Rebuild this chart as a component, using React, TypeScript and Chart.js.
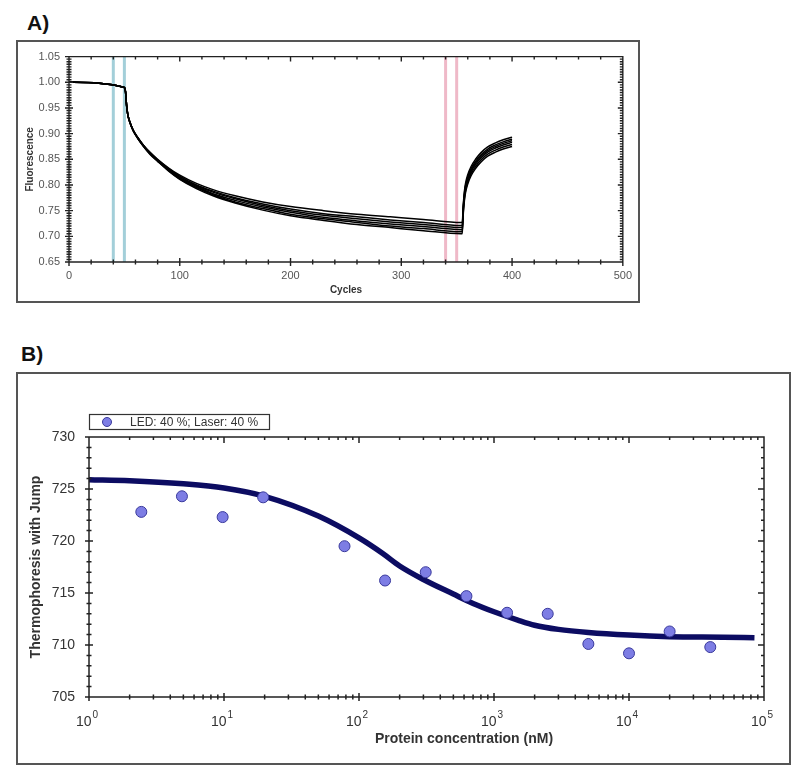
import React, { useEffect, useRef } from "react";
import { Chart, registerables } from "chart.js";

Chart.register(...registerables);

const FONT = '"Liberation Sans", Arial, sans-serif';

// ---------------- Panel A data ----------------
const cycles = [0, 50, 51, 52, 53, 55, 58, 62, 67, 73, 80, 90, 100, 115, 130, 150, 175, 200, 230, 260, 290, 320, 354, 355, 356, 357, 358, 360, 363, 367, 372, 378, 385, 392, 400];
const trace1 = [1.0, 0.99, 0.982, 0.955, 0.938, 0.922, 0.907, 0.893, 0.878, 0.864, 0.85, 0.833, 0.819, 0.803, 0.791, 0.779, 0.767, 0.758, 0.75, 0.743, 0.738, 0.733, 0.727, 0.727, 0.763, 0.788, 0.803, 0.82, 0.836, 0.85, 0.863, 0.874, 0.882, 0.888, 0.893];
const trace2 = [1.0, 0.99, 0.982, 0.955, 0.938, 0.922, 0.906, 0.892, 0.878, 0.863, 0.849, 0.832, 0.817, 0.8, 0.788, 0.775, 0.763, 0.753, 0.744, 0.738, 0.732, 0.727, 0.721, 0.721, 0.759, 0.784, 0.799, 0.816, 0.832, 0.846, 0.859, 0.87, 0.878, 0.884, 0.889];
const trace3 = [1.0, 0.99, 0.982, 0.955, 0.938, 0.922, 0.906, 0.892, 0.877, 0.862, 0.848, 0.83, 0.815, 0.799, 0.786, 0.773, 0.76, 0.75, 0.741, 0.734, 0.728, 0.723, 0.717, 0.717, 0.756, 0.781, 0.796, 0.813, 0.829, 0.843, 0.856, 0.867, 0.875, 0.881, 0.886];
const trace4 = [1.0, 0.99, 0.982, 0.955, 0.938, 0.922, 0.906, 0.892, 0.877, 0.862, 0.847, 0.829, 0.814, 0.797, 0.783, 0.77, 0.757, 0.747, 0.737, 0.73, 0.724, 0.719, 0.713, 0.713, 0.753, 0.778, 0.793, 0.81, 0.826, 0.84, 0.853, 0.864, 0.872, 0.878, 0.883];
const trace5 = [1.0, 0.99, 0.982, 0.955, 0.938, 0.922, 0.906, 0.891, 0.876, 0.861, 0.847, 0.828, 0.812, 0.795, 0.781, 0.767, 0.754, 0.743, 0.734, 0.727, 0.72, 0.715, 0.709, 0.709, 0.749, 0.774, 0.789, 0.806, 0.822, 0.836, 0.849, 0.86, 0.868, 0.874, 0.879];
const trace6 = [1.0, 0.99, 0.982, 0.955, 0.938, 0.921, 0.905, 0.891, 0.876, 0.86, 0.846, 0.827, 0.811, 0.793, 0.779, 0.765, 0.751, 0.74, 0.731, 0.723, 0.717, 0.711, 0.705, 0.705, 0.745, 0.77, 0.785, 0.802, 0.818, 0.832, 0.845, 0.856, 0.864, 0.87, 0.875];
const tracesA = [trace1, trace2, trace3, trace4, trace5, trace6];
const blueMarkerCycles = [40, 50];
const pinkMarkerCycles = [340, 350];
const cycleTickLabels = [0, 100, 200, 300, 400, 500];
const fluorescenceTickLabels = [0.65, 0.7, 0.75, 0.8, 0.85, 0.9, 0.95, 1.0, 1.05];
const titleAx = "Cycles";
const titleAy = "Fluorescence";

// ---------------- Panel B data ----------------
const concentrationsNM = [2.44, 4.88, 9.77, 19.5, 78.1, 156, 312, 625, 1250, 2500, 5000, 10000, 20000, 40000];
const thermophoresis = [722.8, 724.3, 722.3, 724.2, 719.5, 716.2, 717.0, 714.7, 713.1, 713.0, 710.1, 709.2, 711.3, 709.8];
const fitConcentrationsNM = [1, 2, 5, 10, 20, 50, 100, 150, 200, 300, 500, 700, 1000, 1500, 2000, 3000, 5000, 10000, 20000, 50000, 85000];
const fitThermophoresis = [725.9, 725.8, 725.5, 725.1, 724.3, 722.4, 720.3, 718.8, 717.6, 716.3, 714.9, 714.0, 713.2, 712.4, 711.9, 711.5, 711.2, 710.95, 710.8, 710.75, 710.7];
const concTickValues = [1, 10, 100, 1000, 10000, 100000];
const concTickBase = "10";
const concTickExponents = ["0", "1", "2", "3", "4", "5"];
const thermoTickLabels = [705, 710, 715, 720, 725, 730];
const seriesLabelB = "LED: 40 %; Laser: 40 %";
const titleBx = "Protein concentration (nM)";
const titleBy = "Thermophoresis with Jump";

// ---------------- plugins ----------------
const frameTicksPlugin = {
  id: "frameTicks",
  afterDatasetsDraw(chart: any, _a: any, o: any) {
    const { ctx, chartArea } = chart;
    const { left, right, top, bottom } = chartArea;
    const xs = chart.scales.x;
    const ys = chart.scales.y;
    ctx.save();
    ctx.strokeStyle = o.color;
    ctx.lineWidth = o.lineWidth;
    ctx.beginPath();
    ctx.rect(left, top, right - left, bottom - top);
    const seg = (a: number, b: number, c: number, d: number) => {
      ctx.moveTo(a, b);
      ctx.lineTo(c, d);
    };
    for (const v of o.xMajor) {
      const p = xs.getPixelForValue(v);
      seg(p, bottom - o.majIn, p, bottom + o.majOut);
      seg(p, top, p, top + o.inMaj);
    }
    for (const v of o.xMinor) {
      const p = xs.getPixelForValue(v);
      seg(p, bottom - o.minIn, p, bottom + o.minOut);
      seg(p, top, p, top + o.inMin);
    }
    for (const v of o.yMajor) {
      const p = ys.getPixelForValue(v);
      seg(left - o.majOut, p, left + o.majIn, p);
      seg(right, p, right - o.inMaj, p);
    }
    for (const v of o.yMinor) {
      const p = ys.getPixelForValue(v);
      seg(left - o.minOut, p, left + o.minIn, p);
      seg(right, p, right - o.inMin, p);
    }
    ctx.stroke();
    ctx.restore();
  },
};

const axisTitlesPlugin = {
  id: "axisTitles",
  afterDraw(chart: any, _a: any, o: any) {
    const { ctx, chartArea } = chart;
    ctx.save();
    ctx.fillStyle = o.color;
    ctx.font = o.font;
    ctx.textAlign = "center";
    ctx.textBaseline = "middle";
    ctx.fillText(o.xText, chartArea.left + o.xDx, chartArea.bottom + o.xDy);
    ctx.translate(chartArea.left - o.yDx, (chartArea.top + chartArea.bottom) / 2);
    ctx.rotate(-Math.PI / 2);
    ctx.fillText(o.yText, 0, 0);
    ctx.restore();
  },
};

const powerLabelsPlugin = {
  id: "powerLabels",
  afterDraw(chart: any, _a: any, o: any) {
    if (!o || !o.show) return;
    const { ctx, chartArea } = chart;
    const xs = chart.scales.x;
    const y = chartArea.bottom + 25;
    ctx.save();
    ctx.fillStyle = "#333";
    ctx.textBaseline = "middle";
    ctx.textAlign = "left";
    concTickValues.forEach((v, i) => {
      const px = xs.getPixelForValue(v);
      ctx.font = `14px ${FONT}`;
      const wb = ctx.measureText(concTickBase).width;
      ctx.font = `10px ${FONT}`;
      const we = ctx.measureText(concTickExponents[i]).width;
      const x0 = px - 2 - (wb + we + 1) / 2;
      ctx.font = `14px ${FONT}`;
      ctx.fillText(concTickBase, x0, y);
      ctx.font = `10px ${FONT}`;
      ctx.fillText(concTickExponents[i], x0 + wb + 1, y - 7);
    });
    ctx.restore();
  },
};

const legendBoxPlugin = {
  id: "legendBox",
  afterDraw(chart: any, _a: any, o: any) {
    if (!o || !o.show) return;
    const { ctx, chartArea } = chart;
    const ds = chart.data.datasets[0];
    const x = chartArea.left;
    const y = chartArea.top - 23;
    const w = 180;
    const h = 15;
    ctx.save();
    ctx.fillStyle = "#fff";
    ctx.fillRect(x, y, w, h);
    ctx.strokeStyle = "#333";
    ctx.lineWidth = 1.2;
    ctx.strokeRect(x + 0.5, y + 0.5, w, h);
    ctx.beginPath();
    ctx.arc(x + 18, y + h / 2 + 0.5, 4.5, 0, Math.PI * 2);
    ctx.fillStyle = ds.backgroundColor;
    ctx.fill();
    ctx.strokeStyle = ds.borderColor;
    ctx.lineWidth = 1;
    ctx.stroke();
    ctx.fillStyle = "#333";
    ctx.font = `12px ${FONT}`;
    ctx.textAlign = "left";
    ctx.textBaseline = "middle";
    ctx.fillText(ds.label, x + 41, y + h / 2 + 1);
    ctx.restore();
  },
};

function range(a: number, b: number, step: number, skipEvery: number): number[] {
  const out: number[] = [];
  const n = Math.round((b - a) / step);
  for (let i = 0; i <= n; i++) {
    if (i % skipEvery === 0) continue;
    out.push(a + i * step);
  }
  return out;
}

function logMinors(): number[] {
  const out: number[] = [];
  for (let d = 0; d < 5; d++) for (let k = 2; k <= 9; k++) out.push(k * Math.pow(10, d));
  return out;
}

function buildA(): any {
  const datasets: any[] = [];
  for (const c of blueMarkerCycles) {
    datasets.push({ data: [{ x: c, y: 0.65 }, { x: c, y: 1.05 }], borderColor: "#a3cfd9", borderWidth: 3, pointRadius: 0, order: 10 });
  }
  for (const c of pinkMarkerCycles) {
    datasets.push({ data: [{ x: c, y: 0.65 }, { x: c, y: 1.05 }], borderColor: "#efb9c8", borderWidth: 3, pointRadius: 0, order: 10 });
  }
  tracesA.forEach((t, k) => {
    datasets.push({
      label: `trace ${k + 1}`,
      data: cycles.map((c, i) => ({ x: c, y: t[i] })),
      borderColor: "#000",
      borderWidth: 1.5,
      pointRadius: 0,
      cubicInterpolationMode: "monotone",
      order: 1,
    });
  });
  return {
    type: "line",
    data: { datasets },
    options: {
      responsive: false,
      animation: false,
      devicePixelRatio: 1,
      layout: { padding: { top: 7, right: 16, left: 0, bottom: 0 } },
      plugins: {
        legend: { display: false },
        tooltip: { enabled: false },
        frameTicks: {
          color: "#222", lineWidth: 1.4,
          xMajor: cycleTickLabels, xMinor: range(0, 500, 20, 5),
          yMajor: fluorescenceTickLabels, yMinor: range(0.65, 1.05, 0.005, 10),
          majIn: 4, majOut: 4, minIn: 2.5, minOut: 2.5, inMaj: 5, inMin: 3,
        },
        axisTitles: { color: "#333", font: `bold 10px ${FONT}`, xText: titleAx, yText: titleAy, xDx: 277, xDy: 28, yDx: 39 },
      },
      scales: {
        x: {
          type: "linear", min: 0, max: 500,
          grid: { display: false, drawTicks: false }, border: { display: false },
          afterBuildTicks: (s: any) => { s.ticks = cycleTickLabels.map((v) => ({ value: v })); },
          afterFit: (s: any) => { s.height = 40; },
          ticks: { font: { family: FONT, size: 11 }, color: "#555", padding: 7, maxRotation: 0, autoSkip: false, callback: (v: any) => String(v) },
        },
        y: {
          type: "linear", min: 0.65, max: 1.05,
          grid: { display: false, drawTicks: false }, border: { display: false },
          afterBuildTicks: (s: any) => { s.ticks = fluorescenceTickLabels.map((v) => ({ value: v })); },
          afterFit: (s: any) => { s.width = 52; },
          ticks: { font: { family: FONT, size: 11 }, color: "#555", padding: 9, autoSkip: false, callback: (v: any) => Number(v).toFixed(2) },
        },
      },
    },
    plugins: [frameTicksPlugin, axisTitlesPlugin],
  };
}

function buildB(): any {
  return {
    type: "line",
    data: {
      datasets: [
        {
          label: seriesLabelB,
          data: concentrationsNM.map((c, i) => ({ x: c, y: thermophoresis[i] })),
          showLine: false,
          pointRadius: 5.5,
          backgroundColor: "#7d7de4",
          borderColor: "#3a3a9c",
          borderWidth: 1,
          order: 0,
        },
        {
          label: "fit",
          data: fitConcentrationsNM.map((c, i) => ({ x: c, y: fitThermophoresis[i] })),
          borderColor: "#0c0c62",
          borderWidth: 5.5,
          pointRadius: 0,
          cubicInterpolationMode: "monotone",
          order: 1,
        },
      ],
    },
    options: {
      responsive: false,
      animation: false,
      devicePixelRatio: 1,
      layout: { padding: { top: 64, right: 26, left: 0, bottom: 0 } },
      plugins: {
        legend: { display: false },
        tooltip: { enabled: false },
        frameTicks: {
          color: "#222", lineWidth: 1.5,
          xMajor: concTickValues, xMinor: logMinors(),
          yMajor: thermoTickLabels, yMinor: range(705, 730, 1, 5),
          majIn: 4, majOut: 4, minIn: 2.5, minOut: 2.5, inMaj: 6, inMin: 3,
        },
        axisTitles: { color: "#333", font: `bold 14px ${FONT}`, xText: titleBx, yText: titleBy, xDx: 375, xDy: 42, yDx: 53 },
        legendBox: { show: true },
        powerLabels: { show: true },
      },
      scales: {
        x: {
          type: "logarithmic", min: 1, max: 100000,
          grid: { display: false, drawTicks: false }, border: { display: false },
          afterBuildTicks: (s: any) => { s.ticks = concTickValues.map((v) => ({ value: v })); },
          afterFit: (s: any) => { s.height = 67; },
          ticks: { display: false },
        },
        y: {
          type: "linear", min: 705, max: 730,
          grid: { display: false, drawTicks: false }, border: { display: false },
          afterBuildTicks: (s: any) => { s.ticks = thermoTickLabels.map((v) => ({ value: v })); },
          afterFit: (s: any) => { s.width = 72; },
          ticks: { font: { family: FONT, size: 14 }, color: "#333", padding: 14, autoSkip: false, callback: (v: any) => String(v) },
        },
      },
    },
    plugins: [frameTicksPlugin, axisTitlesPlugin, legendBoxPlugin, powerLabelsPlugin],
  };
}

function ChartCanvas(props: { left: number; top: number; width: number; height: number; build: () => any }) {
  const ref = useRef<HTMLCanvasElement>(null);
  useEffect(() => {
    const chart = new Chart(ref.current as HTMLCanvasElement, props.build());
    return () => chart.destroy();
  }, []);
  return (
    <canvas
      ref={ref}
      width={props.width}
      height={props.height}
      style={{ position: "absolute", left: props.left, top: props.top, width: props.width, height: props.height, display: "block" }}
    />
  );
}

export default function App() {
  return (
    <div style={{ position: "absolute", left: 0, top: 0, width: 800, height: 775, background: "#fff", fontFamily: FONT, overflow: "hidden" }}>
      <div style={{ position: "absolute", left: 27, top: 12, font: `bold 21px ${FONT}`, lineHeight: "21px", color: "#111" }}>A)</div>
      <div style={{ position: "absolute", left: 16, top: 40, width: 624, height: 263, border: "2px solid #555", boxSizing: "border-box" }} />
      <ChartCanvas left={17} top={41} width={622} height={261} build={buildA} />
      <div style={{ position: "absolute", left: 21, top: 343, font: `bold 21px ${FONT}`, lineHeight: "21px", color: "#111" }}>B)</div>
      <div style={{ position: "absolute", left: 16, top: 372, width: 775, height: 393, border: "2px solid #555", boxSizing: "border-box" }} />
      <ChartCanvas left={17} top={373} width={773} height={391} build={buildB} />
    </div>
  );
}
